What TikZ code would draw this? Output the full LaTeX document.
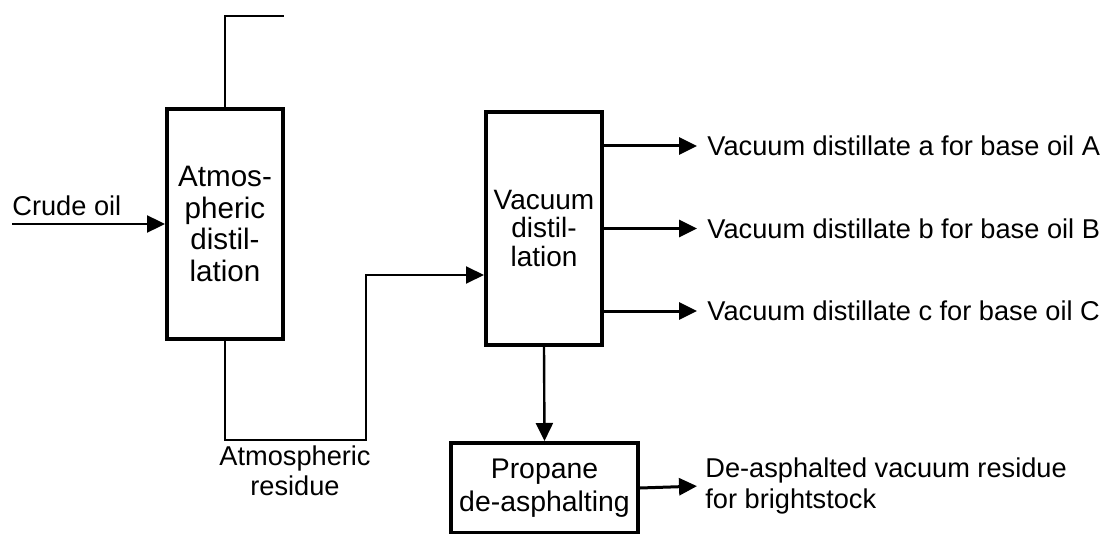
\documentclass[tikz,border=0pt]{standalone}
\usepackage{fontspec}
\setmainfont{Liberation Sans}
\usetikzlibrary{arrows.meta}
\tikzset{
  unit/.style={draw,line width=2pt,align=center,inner sep=0pt,
    font=\fontsize{14.8}{15.8}\selectfont},
  flow/.style={line width=1.5pt,-{Triangle[length=9pt,width=8.5pt]}},
  pipe/.style={line width=1pt},
  lbl/.style={inner sep=2pt,align=left,anchor=west}
}
\begin{document}
\begin{tikzpicture}[x=0.5pt,y=-0.5pt,font=\fontsize{13.6}{15.2}\selectfont]
\useasboundingbox (0,0) rectangle (1108,534);

\node[unit,minimum width=58pt,minimum height=115pt] (atm) at (225,224) {Atmos-\\pheric\\distil-\\lation};
\node[unit,minimum width=58pt,minimum height=116.5pt,
  font=\fontsize{14}{14.2}\selectfont] (vac) at (544,228.5) {Vacuum\\distil-\\lation};
\node[unit,minimum width=93.5pt,minimum height=45pt,
  font=\fontsize{14.2}{16.5}\selectfont] (pda) at (544.5,488) {Propane\\de-asphalting};

\coordinate (crude) at (12,224);
\coordinate (vent) at (284,16);
\coordinate (bend) at (366,440);
\coordinate (resin) at (484,275);

\node[lbl,anchor=west] (crudelbl) at (8,206) {Crude oil};
\node[align=center,inner sep=0pt] (reslbl) at (295,471) {Atmospheric\\residue};

\node[lbl] (outa) at (703,146) {Vacuum distillate a for base oil A};
\node[lbl] (outb) at (703,228.5) {Vacuum distillate b for base oil B};
\node[lbl] (outc) at (703,311) {Vacuum distillate c for base oil C};
\node[lbl] (deas) at (701,486) {De-asphalted vacuum residue\\for brightstock};

\draw[flow,line width=1.2pt] (crude) -- (atm.west);
\draw[pipe,line width=1.2pt] (atm.north) |- (vent);
\draw[pipe,-{Triangle[length=9pt,width=8.5pt]}] (atm.south) |- (bend) |- (vac.west |- resin);

\draw[flow,shorten >=3pt] (vac.east |- outa) -- (outa.west);
\draw[flow,shorten >=3pt] (vac.east |- outb) -- (outb.west);
\draw[flow,shorten >=3pt] (vac.east |- outc) -- (outc.west);

\draw[flow,line width=1.2pt] (vac.south) -- (pda.north);
\draw[flow,shorten >=2pt] (pda.east) -- (deas.west);
\end{tikzpicture}
\end{document}
